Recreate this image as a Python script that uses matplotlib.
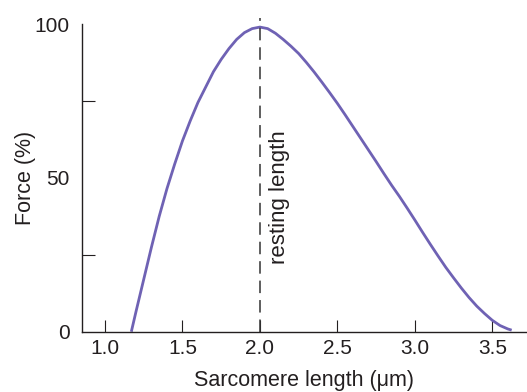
import matplotlib
matplotlib.use('Agg')
import matplotlib.pyplot as plt

# длина саркомера (мкм) и сила (%)
length = [1.17, 1.20, 1.25, 1.30, 1.35, 1.40, 1.45, 1.50, 1.55, 1.60, 1.65, 1.70,
          1.75, 1.80, 1.85, 1.90, 1.95, 2.00, 2.05, 2.10, 2.15, 2.20, 2.25, 2.30,
          2.35, 2.40, 2.45, 2.50, 2.55, 2.60, 2.65, 2.70, 2.75, 2.80, 2.85, 2.90,
          2.95, 3.00, 3.05, 3.10, 3.15, 3.20, 3.25, 3.30, 3.35, 3.40, 3.45, 3.50,
          3.55, 3.60, 3.625]
force = [0, 6.5, 17, 27.5, 37.5, 46.5, 54.5, 62, 68.5, 74.5, 79.5, 84.5,
         88.5, 92, 95, 97.2, 98.5, 99, 98.5, 97.0, 95.0, 92.8, 90.4, 87.5,
         84.4, 81.1, 77.7, 74.2, 70.5, 66.7, 62.9, 59.1, 55.3, 51.4, 47.6, 44.0,
         40.2, 36.3, 32.3, 28.4, 24.6, 20.9, 17.5, 14.2, 11.1, 8.3, 5.9, 3.7,
         2.0, 0.9, 0.5]
resting = 2.0

xticks = [1.0, 1.5, 2.0, 2.5, 3.0, 3.5]
xticklabels = ['1.0', '1.5', '2.0', '2.5', '3.0', '3.5']
yticks = [0, 50, 100]
yticklabels = ['0', '50', '100']
yminor = [25, 50, 75]

plt.rcParams['font.family'] = ['Liberation Sans', 'DejaVu Sans']
axis_color = '#231f20'

fig = plt.figure(figsize=(5.27, 3.92), dpi=100)
ax = fig.add_axes([82 / 527, 60.3 / 392, 1 - 82 / 527, (331.7 - 24) / 392])

ax.plot(length, force, color='#6f62b4', lw=2.0, solid_capstyle='butt',
        solid_joinstyle='round', clip_on=False)
lw = 1.1
ax.plot([resting, resting], [0, 102], color='#333333', lw=lw,
        linestyle=(0, (9 / lw, 5 / lw)), clip_on=False)
ax.text(2.125, 43.7, 'resting length', rotation=90, ha='center', va='center',
        fontsize=16, color='#231f20')

ax.set_xlim(0.8516, 3.724)
ax.set_ylim(0, 100)

for side in ['top', 'right']:
    ax.spines[side].set_visible(False)
for side in ['left', 'bottom']:
    ax.spines[side].set_color(axis_color)
    ax.spines[side].set_linewidth(1.0)

ax.set_xticks(xticks)
ax.set_xticklabels(xticklabels)
ax.set_yticks(yticks)
ax.set_yticklabels(yticklabels)
ax.set_yticks(yminor, minor=True)
ax.tick_params(axis='x', direction='in', length=8.5, width=0.8, color=axis_color,
               labelsize=15, pad=5, labelcolor='#231f20')
ax.tick_params(axis='y', which='major', length=0, labelsize=15, pad=9,
               labelcolor='#231f20')
ax.tick_params(axis='y', which='minor', direction='in', length=9.5, width=0.8,
               color=axis_color)

ax.set_xlabel('Sarcomere length (μm)', fontsize=15.5, color='#231f20', labelpad=9)
ax.set_ylabel('Force (%)', fontsize=15.5, color='#231f20', labelpad=-1)

plt.savefig('out.png', dpi=100)
